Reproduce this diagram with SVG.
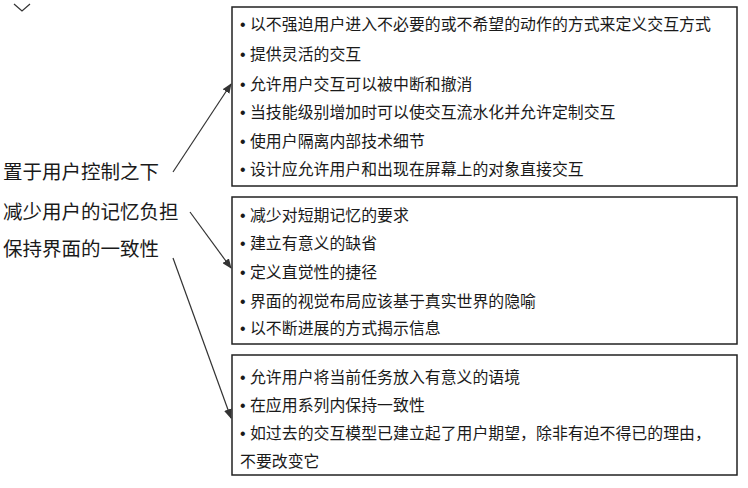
<svg xmlns="http://www.w3.org/2000/svg" width="748" height="488" viewBox="0 0 748 488">
<style>
.box{fill:#fff;stroke:#222;stroke-width:1.5}
.t{font-family:"Liberation Sans","Noto Sans CJK SC",sans-serif;font-size:15.9px;fill:#1a1a1a}
.l{font-family:"Liberation Sans","Noto Sans CJK SC",sans-serif;font-size:19.5px;fill:#1a1a1a}
.c{stroke:#333;stroke-width:1.2;fill:none}
</style>
<defs><marker id="a" markerWidth="10" markerHeight="8" refX="9" refY="4" orient="auto" markerUnits="userSpaceOnUse"><path d="M0,0 L10,4 L0,8 Z" fill="#333"/></marker></defs>
<rect width="748" height="488" fill="#fff"/>
<polyline points="14,4 22,11 30,4" class="c" stroke-width="2.5"/>
<g id="left">
<text class="l" x="3" y="179">置于用户控制之下</text>
<text class="l" x="3" y="219">减少用户的记忆负担</text>
<text class="l" x="3" y="256">保持界面的一致性</text>
</g>
<g id="box1">
<rect class="box" x="232" y="7" width="505" height="179"/>
<text class="t" x="240" y="30">• 以不强迫用户进入不必要的或不希望的动作的方式来定义交互方式</text>
<text class="t" x="240" y="60">• 提供灵活的交互</text>
<text class="t" x="240" y="90">• 允许用户交互可以被中断和撤消</text>
<text class="t" x="240" y="118">• 当技能级别增加时可以使交互流水化并允许定制交互</text>
<text class="t" x="240" y="147">• 使用户隔离内部技术细节</text>
<text class="t" x="240" y="175">• 设计应允许用户和出现在屏幕上的对象直接交互</text>
</g>
<g id="box2">
<rect class="box" x="232" y="197" width="505" height="147"/>
<text class="t" x="240" y="221">• 减少对短期记忆的要求</text>
<text class="t" x="240" y="249">• 建立有意义的缺省</text>
<text class="t" x="240" y="278">• 定义直觉性的捷径</text>
<text class="t" x="240" y="307">• 界面的视觉布局应该基于真实世界的隐喻</text>
<text class="t" x="240" y="334">• 以不断进展的方式揭示信息</text>
</g>
<g id="box3">
<rect class="box" x="232" y="355" width="505" height="120"/>
<text class="t" x="240" y="383">• 允许用户将当前任务放入有意义的语境</text>
<text class="t" x="240" y="411">• 在应用系列内保持一致性</text>
<text class="t" x="240" y="439">• 如过去的交互模型已建立起了用户期望，除非有迫不得已的理由，</text>
<text class="t" x="240" y="467">不要改变它</text>
</g>
<g id="connectors">
<line class="c" x1="173" y1="172" x2="231" y2="84" marker-end="url(#a)"/>
<line class="c" x1="190" y1="212" x2="231" y2="268" marker-end="url(#a)"/>
<line class="c" x1="173" y1="258" x2="231" y2="418" marker-end="url(#a)"/>
</g>
</svg>
